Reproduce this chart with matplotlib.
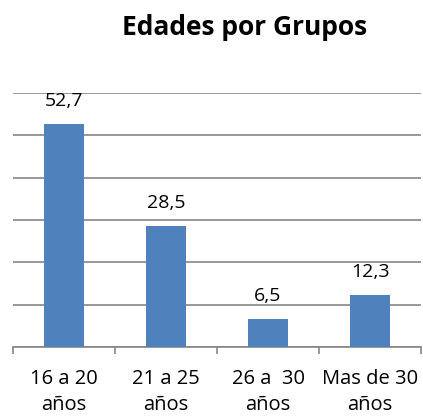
import matplotlib
matplotlib.use("Agg")
import matplotlib.pyplot as plt
import numpy as np

categories = ["16 a 20\naños", "21 a 25\naños", "26 a  30\naños", "Mas de 30\naños"]
values = [52.7, 28.5, 6.5, 12.3]
value_labels = ["52,7", "28,5", "6,5", "12,3"]
title = "Edades por Grupos"

plt.rcParams['font.family'] = ['Open Sans', 'DejaVu Sans']

fig = plt.figure(figsize=(4.23, 4.16), dpi=100)
ax = fig.add_axes([13/423, 1-347/416, (421-13)/423, (347-93)/416])

x = np.arange(len(categories))
ax.bar(x, values, width=0.4, color="#4F81BD", zorder=3)
for xi, v, lab in zip(x, values, value_labels):
    ax.annotate(lab, (xi, v), xytext=(0, 13), textcoords="offset points",
                ha="center", va="baseline", fontsize=14, color="black")

ax.set_xlim(-0.5, len(categories)-0.5)
ax.set_ylim(0, 60)
ax.set_yticks(np.arange(0, 61, 10))
ax.yaxis.grid(True, color="#868686", linewidth=1.2, zorder=0)
ax.tick_params(axis='y', left=False, labelleft=False)
for s in ["left", "right", "top"]:
    ax.spines[s].set_visible(False)
ax.spines["bottom"].set_color("#868686")
ax.spines["bottom"].set_linewidth(1.2)

ax.set_xticks(np.arange(-0.5, len(categories), 1.0), minor=False)
ax.set_xticklabels([])
ax.tick_params(axis='x', which='major', direction='out', length=5, color="#868686", width=1.2)
ax.set_xticks(x, minor=True)
ax.set_xticklabels(categories, minor=True, fontsize=14.5, linespacing=1.45)
ax.tick_params(axis='x', which='minor', length=0, pad=15.5)

fig.text(245/423, 1-35/416, title, ha="center", va="baseline", fontsize=19, fontweight="bold")

fig.savefig("out.png", dpi=100)
